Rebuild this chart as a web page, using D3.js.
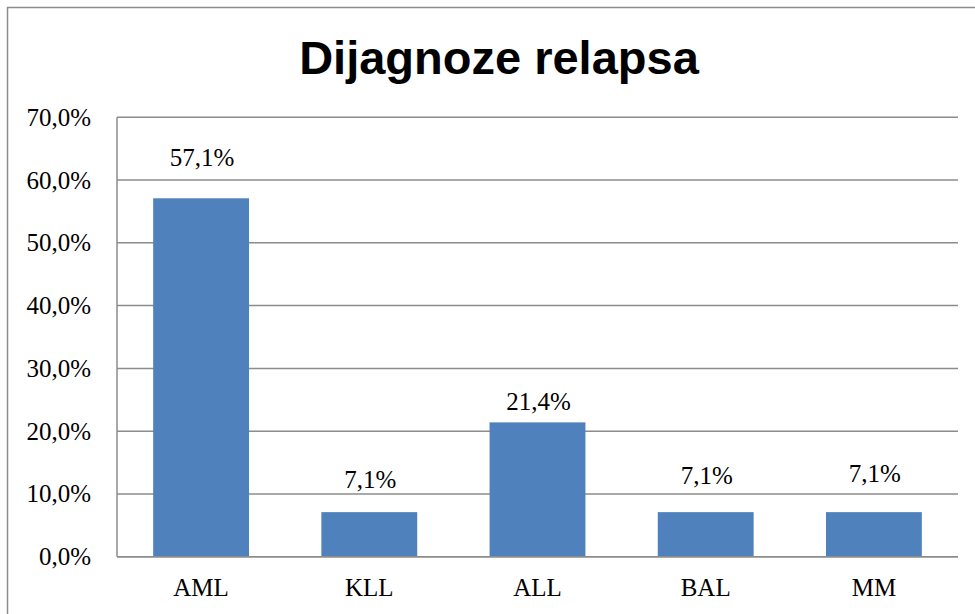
<!DOCTYPE html>
<html>
<head>
<meta charset="utf-8">
<script src="https://cdn.jsdelivr.net/npm/d3@7"></script>
<style>
  body { margin: 0; background: #fff; }
  svg { display: block; }
  .grid line { stroke: #8c8c8c; stroke-width: 1.5; }
  .axis-label { font-family: "Liberation Serif", "Times New Roman", serif; font-size: 25px; fill: #000; }
</style>
</head>
<body>
<svg id="chart" width="975" height="614"></svg>
<script>
// chart data
var categories = ["AML", "KLL", "ALL", "BAL", "MM"];
var values = [0.571, 0.071, 0.214, 0.071, 0.071];
var valueLabels = ["57,1%", "7,1%", "21,4%", "7,1%", "7,1%"];
var yTicks = [0, 0.1, 0.2, 0.3, 0.4, 0.5, 0.6, 0.7];

// labels were nudged by hand in the original, keep that
var labelNudge = [-6, 2, 14, -2, -4];

var svg = d3.select("#chart");
var margin = {left: 117, right: 958, top: 117.3, bottom: 556.7};

var x = d3.scaleBand()
  .domain(categories)
  .range([margin.left, margin.right])
  .paddingInner(0.43)
  .paddingOuter(0.215);

var y = d3.scaleLinear()
  .domain([0, 0.7])
  .range([margin.bottom, margin.top]);

var fmt = function(d) { return (d * 100).toFixed(1).replace(".", ",") + "%"; };

// outer chart frame (cut off at right and bottom)
svg.append("rect")
  .attr("x", 7.5).attr("y", 7.5)
  .attr("width", 1000).attr("height", 700)
  .attr("fill", "none")
  .attr("stroke", "#8c8c8c")
  .attr("stroke-width", 1.5);

// title
svg.append("text")
  .attr("x", 499).attr("y", 74)
  .attr("text-anchor", "middle")
  .style("font-family", "'Liberation Sans', Arial, sans-serif")
  .style("font-weight", "bold")
  .style("font-size", "47px")
  .text("Dijagnoze relapsa");

// gridlines
svg.append("g").attr("class", "grid")
  .selectAll("line")
  .data(yTicks)
  .join("line")
  .attr("x1", margin.left).attr("x2", margin.right)
  .attr("y1", function(d) { return y(d); })
  .attr("y2", function(d) { return y(d); });

// y axis line
svg.append("line")
  .attr("x1", margin.left).attr("x2", margin.left)
  .attr("y1", margin.top).attr("y2", margin.bottom)
  .attr("stroke", "#8c8c8c").attr("stroke-width", 1.5);

// y tick labels
svg.append("g")
  .selectAll("text")
  .data(yTicks)
  .join("text")
  .attr("class", "axis-label")
  .attr("x", 91)
  .attr("y", function(d) { return y(d) + 8.5; })
  .attr("text-anchor", "end")
  .text(fmt);

// bars
svg.append("g")
  .selectAll("rect")
  .data(values)
  .join("rect")
  .attr("x", function(d, i) { return x(categories[i]); })
  .attr("y", function(d) { return y(d); })
  .attr("width", x.bandwidth())
  .attr("height", function(d) { return y(0) - y(d); })
  .attr("fill", "#4f81bd");

// bottom axis line on top of bars
svg.append("line")
  .attr("x1", margin.left).attr("x2", margin.right)
  .attr("y1", y(0)).attr("y2", y(0))
  .attr("stroke", "#8c8c8c").attr("stroke-width", 1.5);

// value labels
svg.append("g")
  .selectAll("text")
  .data(values)
  .join("text")
  .attr("class", "axis-label")
  .attr("x", function(d, i) { return x(categories[i]) + x.bandwidth() / 2 + 1; })
  .attr("y", function(d, i) { return y(d) - 26 + labelNudge[i]; })
  .attr("text-anchor", "middle")
  .text(function(d, i) { return valueLabels[i]; });

// category labels
svg.append("g")
  .selectAll("text")
  .data(categories)
  .join("text")
  .attr("class", "axis-label")
  .attr("x", function(d) { return x(d) + x.bandwidth() / 2; })
  .attr("y", 596)
  .attr("text-anchor", "middle")
  .text(function(d) { return d; });
</script>
</body>
</html>
